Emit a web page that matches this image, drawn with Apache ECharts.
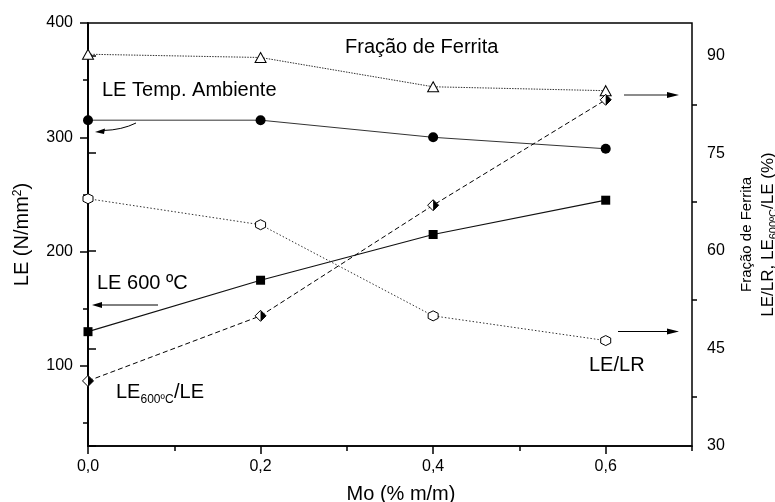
<!DOCTYPE html>
<html>
<head>
<meta charset="utf-8">
<script src="https://cdn.jsdelivr.net/npm/echarts@6/dist/echarts.min.js"></script>
<style>html,body{margin:0;padding:0;background:#fff}#c{width:775px;height:502px}</style>
</head>
<body>
<div id="c"></div>
<script>
// ---- data ----
const moPct = [0, 0.2, 0.4, 0.6];
const leAmbiente = [315, 315, 300, 290];      // left axis, N/mm2
const le600 = [130, 175, 215, 245];           // left axis, N/mm2
const fracaoFerrita = [90.2, 89.7, 85.2, 84.6]; // right axis, %
const leLr = [68, 64, 50, 46.2];              // right axis, %
const le600Le = [40, 50, 67, 83.2];           // right axis, %

const xMajorTicks = [0, 0.2, 0.4, 0.6];
const xMinorTicks = [0.1, 0.3, 0.5, 0.7];
const leftMajorTicks = [100, 200, 300, 400];
const leftMinorTicks = [50, 150, 250, 350];
const rightMajorTicks = [30, 45, 60, 75, 90];
const rightMinorTicks = [37.5, 52.5, 67.5, 82.5];

const FONT = "'Liberation Sans', Arial, sans-serif";
const pairs = arr => moPct.map((x, i) => [x, arr[i]]);

const chart = echarts.init(document.getElementById('c'), null, {renderer: 'canvas'});

const axisLineStyle = {show: true, lineStyle: {color: '#000', width: 1.5}};
const tickLabel = {color: '#000', fontSize: 16, fontFamily: FONT};

const option = {
  animation: false,
  backgroundColor: '#fff',
  textStyle: {fontFamily: FONT},
  grid: {left: 88, right: 83, top: 23, bottom: 56, containLabel: false, outerBoundsMode: 'none',
         show: true, borderColor: '#000', borderWidth: 1.5, backgroundColor: 'transparent'},
  xAxis: [
    {
      type: 'value', min: 0, max: 0.7, position: 'bottom',
      axisLine: axisLineStyle,
      axisTick: {show: true, length: 8, lineStyle: {color: '#000', width: 1.5}, customValues: xMajorTicks},
      axisLabel: Object.assign({margin: 13, customValues: xMajorTicks, formatter: v => v.toFixed(1).replace('.', ',')}, tickLabel),
      splitLine: {show: false},
      name: 'Mo (% m/m)', nameLocation: 'middle', nameGap: 38,
      nameTextStyle: {fontSize: 20, color: '#000', fontFamily: FONT, padding: [0, 0, 0, 22]}
    },
    {
      type: 'value', min: 0, max: 0.7, position: 'bottom',
      axisLine: {show: false},
      axisTick: {show: true, length: 5, lineStyle: {color: '#000', width: 1.5}, customValues: xMinorTicks},
      axisLabel: {show: false},
      splitLine: {show: false}
    }
  ],
  yAxis: [
    {
      type: 'value', min: 30, max: 400, position: 'left',
      axisLine: axisLineStyle,
      axisTick: {show: true, length: 8, lineStyle: {color: '#000', width: 1.5}, customValues: leftMajorTicks},
      axisLabel: Object.assign({margin: 15, customValues: leftMajorTicks}, tickLabel),
      splitLine: {show: false},
      name: 'LE (N/mm{sup|2})', nameLocation: 'middle', nameGap: 56, nameRotate: 90,
      nameTextStyle: {fontSize: 20, color: '#000', fontFamily: FONT,
        rich: {sup: {fontSize: 12, fontFamily: FONT, color: '#000', verticalAlign: 'top', lineHeight: 10}}}
    },
    {
      type: 'value', min: 30, max: 95, position: 'right',
      axisLine: axisLineStyle,
      axisTick: {show: true, length: 8, lineStyle: {color: '#000', width: 1.5}, customValues: rightMajorTicks},
      axisLabel: Object.assign({margin: 15, customValues: rightMajorTicks}, tickLabel),
      splitLine: {show: false},
      name: '{a|Fração de Ferrita}\n{b|LE/LR, LE}{s|600ºC}{b|/LE (%)}', nameLocation: 'middle', nameGap: 34, nameRotate: 90,
      nameTextStyle: {fontSize: 16, color: '#000', fontFamily: FONT, lineHeight: 22,
        rich: {
          a: {fontSize: 15, fontFamily: FONT, color: '#000', lineHeight: 22},
          b: {fontSize: 17, fontFamily: FONT, color: '#000', lineHeight: 22},
          s: {fontSize: 11, fontFamily: FONT, color: '#000', verticalAlign: 'bottom', lineHeight: 9}
        }}
    },
    {
      type: 'value', min: 30, max: 400, position: 'left',
      axisLine: {show: false},
      axisTick: {show: true, length: 5, lineStyle: {color: '#000', width: 1.5}, customValues: leftMinorTicks},
      axisLabel: {show: false}, splitLine: {show: false}
    },
    {
      type: 'value', min: 30, max: 95, position: 'right',
      axisLine: {show: false},
      axisTick: {show: true, length: 5, lineStyle: {color: '#000', width: 1.5}, customValues: rightMinorTicks},
      axisLabel: {show: false}, splitLine: {show: false}
    }
  ],
  series: [
    {
      name: 'Fração de Ferrita', type: 'line', yAxisIndex: 1, data: pairs(fracaoFerrita),
      symbol: 'triangle', symbolSize: [11, 10],
      itemStyle: {color: '#fff', borderColor: '#000', borderWidth: 1},
      lineStyle: {color: '#333', width: 1, type: [1.5, 1.2]}, z: 3
    },
    {
      name: 'LE Temp. Ambiente', type: 'line', yAxisIndex: 0, data: pairs(leAmbiente),
      symbol: 'circle', symbolSize: 10,
      itemStyle: {color: '#000', borderColor: '#000', borderWidth: 0},
      lineStyle: {color: '#333', width: 1}, z: 3
    },
    {
      name: 'LE 600 ºC', type: 'line', yAxisIndex: 0, data: pairs(le600),
      symbol: 'rect', symbolSize: 9,
      itemStyle: {color: '#000', borderWidth: 0},
      lineStyle: {color: '#111', width: 1.2}, z: 3
    },
    {
      name: 'LE/LR', type: 'line', yAxisIndex: 1, data: pairs(leLr),
      symbol: 'path://M0,-1L0.866,-0.5L0.866,0.5L0,1L-0.866,0.5L-0.866,-0.5Z', symbolSize: [10, 10],
      itemStyle: {color: '#fff', borderColor: '#000', borderWidth: 1},
      lineStyle: {color: '#333', width: 1, type: [1.5, 2]}, z: 3
    },
    {
      name: 'LE600ºC/LE', type: 'line', yAxisIndex: 1, data: pairs(le600Le),
      symbol: 'diamond', symbolSize: 11,
      itemStyle: {color: '#fff', borderColor: '#000', borderWidth: 1},
      lineStyle: {color: '#000', width: 1, type: [5, 3]}, z: 3
    },
    {
      name: 'LE600ºC/LE half', type: 'line', yAxisIndex: 1, data: pairs(le600Le),
      symbol: 'path://M0,0L1,1L0,2Z', symbolSize: [5.5, 11], symbolOffset: [2.75, 0],
      itemStyle: {color: '#000', borderWidth: 0},
      lineStyle: {opacity: 0}, z: 4
    }
  ],
  graphic: [
    {type: 'text', x: 345, y: 47, z: 100, style: {text: 'Fração de Ferrita', font: '20px ' + FONT, fill: '#000', align: 'left', textAlign: 'left', verticalAlign: 'middle', textVerticalAlign: 'middle'}},
    {type: 'text', x: 102, y: 90, z: 100, style: {text: 'LE Temp. Ambiente', font: '20px ' + FONT, fill: '#000', align: 'left', textAlign: 'left', verticalAlign: 'middle', textVerticalAlign: 'middle'}},
    {type: 'text', x: 97, y: 283, z: 100, style: {text: 'LE 600 ºC', font: '20px ' + FONT, fill: '#000', align: 'left', textAlign: 'left', verticalAlign: 'middle', textVerticalAlign: 'middle'}},
    {type: 'text', x: 589, y: 365, z: 100, style: {text: 'LE/LR', font: '20px ' + FONT, fill: '#000', align: 'left', textAlign: 'left', verticalAlign: 'middle', textVerticalAlign: 'middle'}},
    {type: 'text', x: 116, y: 392, z: 100, style: {text: 'LE', font: '20px ' + FONT, fill: '#000', align: 'left', textAlign: 'left', verticalAlign: 'middle', textVerticalAlign: 'middle'}},
    {type: 'text', x: 140.5, y: 399.5, z: 100, style: {text: '600ºC', font: '12px ' + FONT, fill: '#000', align: 'left', textAlign: 'left', verticalAlign: 'middle', textVerticalAlign: 'middle'}},
    {type: 'text', x: 174, y: 392, z: 100, style: {text: '/LE', font: '20px ' + FONT, fill: '#000', align: 'left', textAlign: 'left', verticalAlign: 'middle', textVerticalAlign: 'middle'}},
    // arrows
    {type: 'bezierCurve', z: 100, shape: {x1: 136, y1: 123, x2: 103, y2: 130.5, cpx1: 122, cpy1: 130}, style: {stroke: '#000', lineWidth: 1, fill: null}},
    {type: 'polygon', z: 100, shape: {points: [[95, 132], [105, 128.5], [104, 134]]}, style: {fill: '#000'}},
    {type: 'line', z: 100, shape: {x1: 158, y1: 305, x2: 100, y2: 305}, style: {stroke: '#000', lineWidth: 1}},
    {type: 'polygon', z: 100, shape: {points: [[92, 305], [102, 302], [102, 308]]}, style: {fill: '#000'}},
    {type: 'line', z: 100, shape: {x1: 624, y1: 95, x2: 670, y2: 95}, style: {stroke: '#666', lineWidth: 1.5}},
    {type: 'polygon', z: 100, shape: {points: [[679, 95], [667, 92], [667, 98]]}, style: {fill: '#000'}},
    {type: 'line', z: 100, shape: {x1: 618, y1: 331.5, x2: 670, y2: 331.5}, style: {stroke: '#000', lineWidth: 1}},
    {type: 'polygon', z: 100, shape: {points: [[679, 331.5], [667, 328.5], [667, 334.5]]}, style: {fill: '#000'}}
  ]
};
chart.setOption(option);
</script>
</body>
</html>
